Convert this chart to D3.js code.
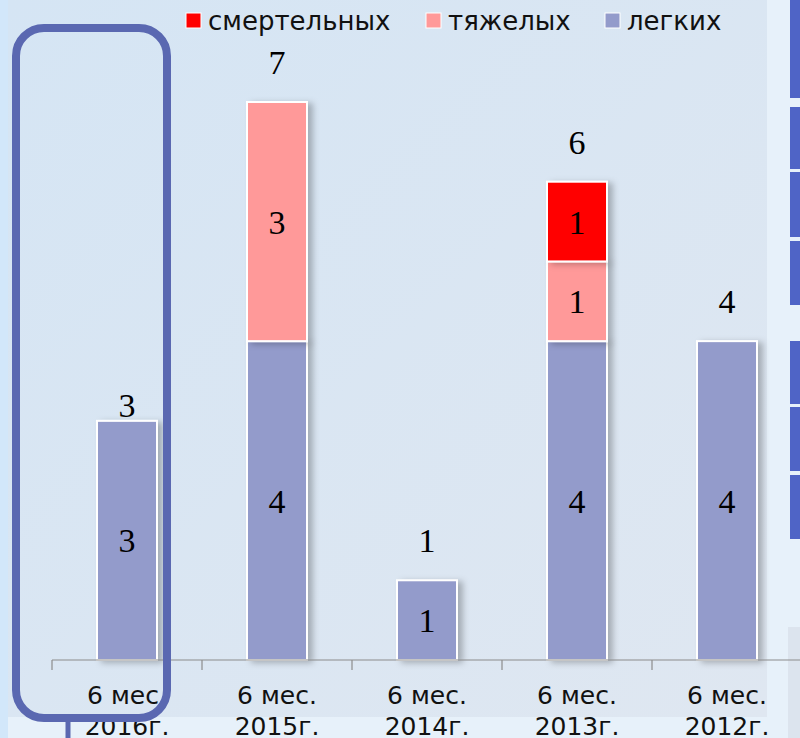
<!DOCTYPE html>
<html>
<head>
<meta charset="utf-8">
<script src="https://cdn.jsdelivr.net/npm/d3@7"></script>
<style>
  html, body { margin: 0; padding: 0; background: #e8f2fb; }
  svg { display: block; }
</style>
</head>
<body>
<svg id="chart" width="800" height="738"></svg>
<script>
// data
var periods = ["6 мес.", "6 мес.", "6 мес.", "6 мес.", "6 мес."];
var years = ["2016г.", "2015г.", "2014г.", "2013г.", "2012г."];
var light = [3, 4, 1, 4, 4];     // легких
var severe = [0, 3, 0, 1, 0];    // тяжелых
var fatal = [0, 0, 0, 1, 0];     // смертельных
var seriesNames = ["легких", "тяжелых", "смертельных"];
var legendOrder = ["смертельных", "тяжелых", "легких"];
var colors = { "легких": "#939bcb", "тяжелых": "#ff9999", "смертельных": "#ff0000" };

var rows = years.map(function(y, i) {
  return { key: y, period: periods[i], "легких": light[i], "тяжелых": severe[i], "смертельных": fatal[i] };
});

var svg = d3.select("#chart");
var defs = svg.append("defs");

var bg = defs.append("linearGradient").attr("id", "panelBg")
    .attr("x1", 0).attr("y1", 0).attr("x2", 1).attr("y2", 1);
bg.append("stop").attr("offset", "0%").attr("stop-color", "#d5e5f4");
bg.append("stop").attr("offset", "100%").attr("stop-color", "#dfe7f1");

var shadow = defs.append("filter").attr("id", "shadow")
    .attr("x", "-20%").attr("y", "-20%").attr("width", "160%").attr("height", "140%");
shadow.append("feDropShadow").attr("dx", 5).attr("dy", 2)
    .attr("stdDeviation", 3).attr("flood-color", "#000").attr("flood-opacity", 0.25);

// slide background pieces
svg.append("rect").attr("x", 0).attr("y", 0).attr("width", 800).attr("height", 738).attr("fill", "#e7f1fa");
svg.append("rect").attr("x", 0).attr("y", 0).attr("width", 8).attr("height", 738).attr("fill", "#d2e7fa");
svg.append("rect").attr("x", 8).attr("y", 0).attr("width", 759).attr("height", 717).attr("fill", "url(#panelBg)");

// decorative blue boxes on the right edge
[[0, 98], [107, 169], [172, 237], [241, 305], [341, 404], [407, 471], [475, 539]].forEach(function(b) {
  svg.append("rect").attr("x", 790).attr("y", b[0]).attr("width", 10).attr("height", b[1] - b[0]).attr("fill", "#4f64c6");
});
svg.append("rect").attr("x", 788).attr("y", 627).attr("width", 12).attr("height", 111).attr("fill", "#dce4ee");

var x = d3.scaleBand().domain(years).range([52, 802]).padding(0);
var y = d3.scaleLinear().domain([0, 7]).range([660, 102]);
var barW = x.bandwidth() * 0.4;

var stack = d3.stack().keys(seriesNames)(rows);

var layer = svg.append("g").selectAll("g")
    .data(stack)
  .enter().append("g")
    .attr("fill", function(d) { return colors[d.key]; });

layer.selectAll("rect")
    .data(function(d) { return d.filter(function(p) { return p[1] - p[0] > 0; }); })
  .enter().append("rect")
    .attr("x", function(d) { return x(d.data.key) + (x.bandwidth() - barW) / 2; })
    .attr("y", function(d) { return y(d[1]); })
    .attr("width", barW)
    .attr("height", function(d) { return y(d[0]) - y(d[1]); })
    .attr("stroke", "#fff")
    .attr("stroke-width", 2)
    .attr("filter", "url(#shadow)");

// values inside segments
layer.selectAll("text")
    .data(function(d) { return d.filter(function(p) { return p[1] - p[0] > 0; }); })
  .enter().append("text")
    .attr("x", function(d) { return x(d.data.key) + x.bandwidth() / 2; })
    .attr("y", function(d) { return (y(d[0]) + y(d[1])) / 2 + 12; })
    .attr("text-anchor", "middle")
    .attr("fill", "#000")
    .style("font", "34px 'Liberation Serif', serif")
    .text(function(d) { return d[1] - d[0]; });

// totals above bars (the first one sits lower, right on the bar)
var totalGap = [4, 28, 28, 28, 28];
svg.append("g").selectAll("text")
    .data(rows)
  .enter().append("text")
    .attr("x", function(d) { return x(d.key) + x.bandwidth() / 2; })
    .attr("y", function(d, i) { return y(d["легких"] + d["тяжелых"] + d["смертельных"]) - totalGap[i]; })
    .attr("text-anchor", "middle")
    .style("font", "34px 'Liberation Serif', serif")
    .text(function(d) { return d["легких"] + d["тяжелых"] + d["смертельных"]; });

// category axis
var axis = svg.append("g");
axis.append("line").attr("x1", 52).attr("x2", 800).attr("y1", 660).attr("y2", 660)
    .attr("stroke", "#8c8c8c").attr("stroke-width", 1.2);
axis.selectAll("line.tick")
    .data(years)
  .enter().append("line").attr("class", "tick")
    .attr("x1", function(d) { return x(d); }).attr("x2", function(d) { return x(d); })
    .attr("y1", 660).attr("y2", 670)
    .attr("stroke", "#8c8c8c").attr("stroke-width", 1.2);
var lab = axis.selectAll("text")
    .data(rows)
  .enter().append("text")
    .attr("text-anchor", "middle")
    .style("font", "25px 'DejaVu Sans', sans-serif")
    .attr("fill", "#111");
lab.append("tspan").attr("x", function(d) { return x(d.key) + x.bandwidth() / 2; })
    .attr("y", 704).text(function(d) { return d.period; });
lab.append("tspan").attr("x", function(d) { return x(d.key) + x.bandwidth() / 2; })
    .attr("y", 735).text(function(d) { return d.key; });

// legend
var legendX = [186, 426, 605];
var legend = svg.append("g").selectAll("g")
    .data(legendOrder)
  .enter().append("g")
    .attr("transform", function(d, i) { return "translate(" + legendX[i] + ",13)"; });
legend.append("rect").attr("width", 15).attr("height", 15)
    .attr("fill", function(d) { return colors[d]; })
    .attr("stroke", "#fff").attr("stroke-width", 1);
legend.append("text").attr("x", 22).attr("y", 17)
    .style("font", "26px 'DejaVu Sans', sans-serif")
    .attr("fill", "#111")
    .text(function(d) { return d; });

// highlight frame round the first bar
svg.append("rect").attr("x", 16).attr("y", 28).attr("width", 151).attr("height", 690)
    .attr("rx", 28).attr("ry", 28)
    .attr("fill", "none").attr("stroke", "#5a68b1").attr("stroke-width", 8);
svg.append("line").attr("x1", 68).attr("x2", 68).attr("y1", 718).attr("y2", 738)
    .attr("stroke", "#5a68b1").attr("stroke-width", 5);
</script>
</body>
</html>
